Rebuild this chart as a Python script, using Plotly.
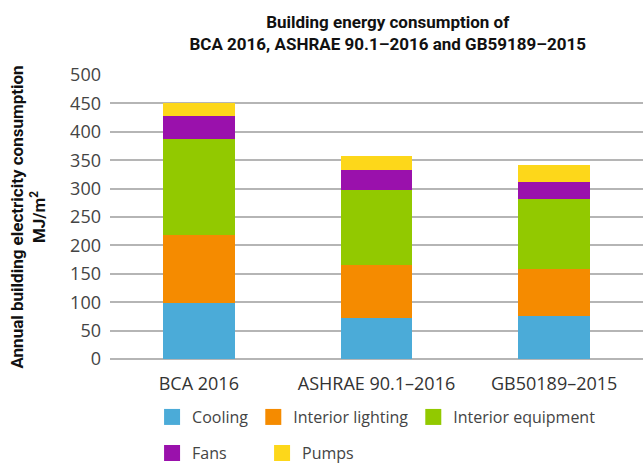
import plotly.graph_objects as go

categories = ["BCA 2016", "ASHRAE 90.1–2016", "GB50189–2015"]
series_names = ["Cooling", "Interior lighting", "Interior equipment", "Fans", "Pumps"]
cooling = [99, 73, 76]
interior_lighting = [119, 93, 83]
interior_equipment = [170, 131, 123]
fans = [39, 35, 30]
pumps = [23, 26, 29]
colors = ["#4BABD8", "#F58B00", "#92C900", "#9A11AC", "#FDD71A"]
y_ticks = [0, 50, 100, 150, 200, 250, 300, 350, 400, 450, 500]

values = [cooling, interior_lighting, interior_equipment, fans, pumps]

COND = "Noto Sans Condensed, Liberation Sans Narrow, Roboto, sans-serif"
BODY = "Open Sans, Noto Sans, sans-serif"

fig = go.Figure()
for name, vals, col in zip(series_names, values, colors):
    fig.add_trace(go.Bar(x=categories, y=vals, name=name, marker=dict(color=col, line=dict(width=0)),
                         showlegend=False))

legend_of = ["legend", "legend", "legend", "legend2", "legend2"]
for name, col, lg in zip(series_names, colors, legend_of):
    fig.add_trace(go.Scatter(x=[None], y=[None], mode="markers", name=name,
                             marker=dict(symbol="square", size=18, color=col),
                             legend=lg, showlegend=True))

fig.update_layout(
    width=643, height=463,
    margin=dict(l=110, r=0, t=75, b=104, autoexpand=False),
    paper_bgcolor="white", plot_bgcolor="white",
    barmode="stack", bargap=0.595,
    title=dict(text="<b>Building energy consumption of<br>BCA 2016, ASHRAE 90.1–2016 and GB59189–2015</b>",
               x=0.603, xref="container", xanchor="center", y=0.94, yref="container", yanchor="top",
               font=dict(family=COND, size=17, color="#111")),
    xaxis=dict(type="category", showgrid=False, showline=False, ticks="", ticklabelstandoff=12,
               automargin=False, tickfont=dict(family=BODY, size=18, color="#333")),
    yaxis=dict(range=[0, 500], tickvals=y_ticks, showgrid=True, gridcolor="#b5b5b5", gridwidth=1.5,
               zeroline=True, zerolinecolor="#b5b5b5", zerolinewidth=1.5,
               ticks="", ticklabelstandoff=8, automargin=False,
               tickfont=dict(family=BODY, size=18, color="#444"),
               title=dict(text="<b>Annual building electricity consumption<br>MJ/m<sup>2</sup></b>",
                          font=dict(family=COND, size=17, color="#111"), standoff=20)),
    legend=dict(orientation="h", xref="container", yref="container", x=0.2365, xanchor="left",
                y=0.136, yanchor="top", traceorder="normal",
                font=dict(family=BODY, size=16, color="#444"), itemwidth=30, tracegroupgap=0),
    legend2=dict(orientation="h", xref="container", yref="container", x=0.2365, xanchor="left",
                 y=0.058, yanchor="top", traceorder="normal",
                 font=dict(family=BODY, size=16, color="#444"), itemwidth=30,
                 entrywidth=65, entrywidthmode="pixels"),
)

fig.write_html("out.html", config={"displayModeBar": False},
               post_script="document.body.style.margin='0';document.body.style.overflow='hidden';")
